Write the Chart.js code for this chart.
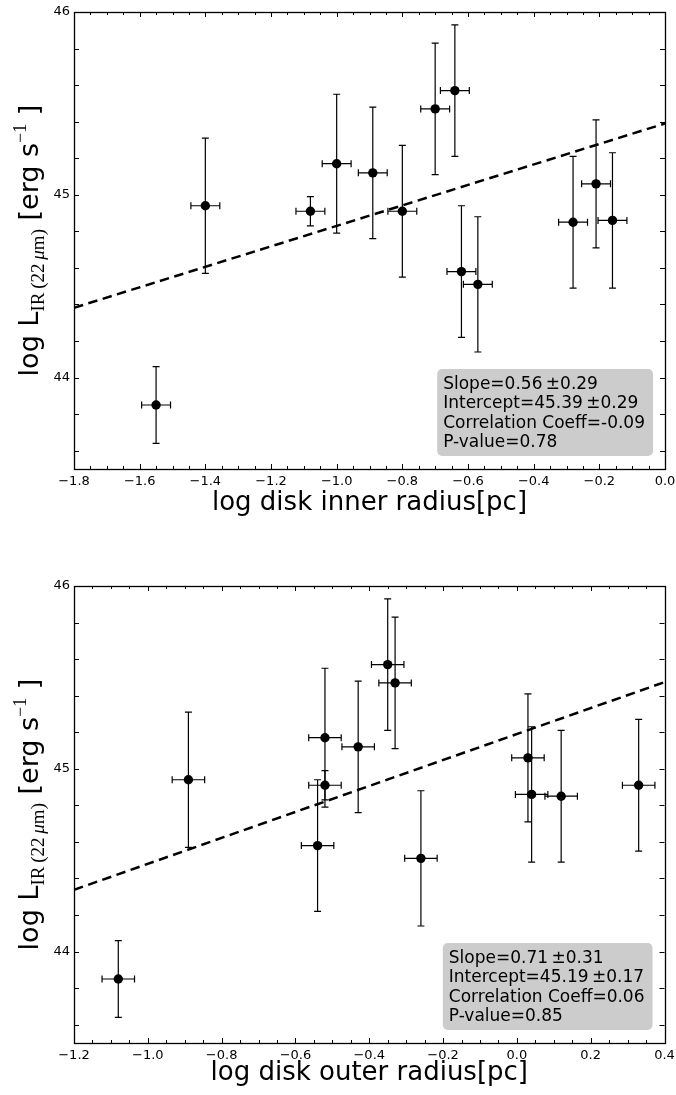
<!DOCTYPE html>
<html>
<head>
<meta charset="utf-8">
<title>IR luminosity vs disk radius</title>
<script src="https://cdn.jsdelivr.net/npm/chart.js@4/dist/chart.umd.min.js"></script>
<style>
  body { margin: 0; background: #fff; }
  canvas { display: block; }
</style>
</head>
<body>
<canvas id="innerChart" width="676" height="547"></canvas>
<canvas id="outerChart" width="676" height="548"></canvas>
<script>
// 22 micron luminosity of the sample (same galaxies, same order, in both panels)
const logLum    = [43.85, 44.94, 44.91, 45.17, 45.12, 44.91, 45.47, 45.57, 44.58, 44.51, 44.85, 45.06, 44.86];
const logLumErr = [0.21, 0.37, 0.08, 0.38, 0.36, 0.36, 0.36, 0.36, 0.36, 0.37, 0.36, 0.35, 0.37];

// disk radii (log pc)
const innerRadius = [-1.55, -1.40, -1.08, -1.00, -0.89, -0.80, -0.70, -0.64, -0.62, -0.57, -0.28, -0.21, -0.16];
const outerRadius = [-1.08, -0.89, -0.52, -0.52, -0.43, 0.33, -0.33, -0.35, -0.54, -0.26, 0.12, 0.03, 0.04];
const radiusErr   = [0.044, 0.044, 0.044, 0.044, 0.044, 0.044, 0.044, 0.044, 0.044, 0.044, 0.044, 0.044, 0.044];

// linear fits: [inner, outer]
const slopes        = [0.56, 0.71];
const slopeErrs     = [0.29, 0.31];
const intercepts    = [45.39, 45.19];
const interceptErrs = [0.29, 0.17];
const corrCoeffs    = [-0.09, 0.06];
const pValues       = [0.78, 0.85];

// tick labels
const innerTicks = [-1.8, -1.6, -1.4, -1.2, -1.0, -0.8, -0.6, -0.4, -0.2, 0.0];
const outerTicks = [-1.2, -1.0, -0.8, -0.6, -0.4, -0.2, 0.0, 0.2, 0.4];
const lumTicks   = [44, 45, 46];

const SANS = '"DejaVu Sans", sans-serif';
const SERIF = '"Liberation Serif", "DejaVu Serif", serif';

function fmtTick(v) {
  return v.toFixed(1).replace('-', '\u2212');
}

// error bars with caps, under the points
const errorBars = {
  id: 'errorBars',
  beforeDatasetsDraw(chart, args, opts) {
    const ctx = chart.ctx, xs = chart.scales.x, ys = chart.scales.y;
    const cap = 3.5;
    ctx.save();
    ctx.strokeStyle = '#000';
    ctx.lineWidth = 1.2;
    opts.xs.forEach((xv, i) => {
      const px = xs.getPixelForValue(xv), py = ys.getPixelForValue(logLum[i]);
      const y0 = ys.getPixelForValue(logLum[i] - logLumErr[i]);
      const y1 = ys.getPixelForValue(logLum[i] + logLumErr[i]);
      const x0 = xs.getPixelForValue(xv - radiusErr[i]);
      const x1 = xs.getPixelForValue(xv + radiusErr[i]);
      ctx.beginPath();
      ctx.moveTo(px, y0); ctx.lineTo(px, y1);
      ctx.moveTo(px - cap, y0); ctx.lineTo(px + cap, y0);
      ctx.moveTo(px - cap, y1); ctx.lineTo(px + cap, y1);
      ctx.moveTo(x0, py); ctx.lineTo(x1, py);
      ctx.moveTo(x0, py - cap); ctx.lineTo(x0, py + cap);
      ctx.moveTo(x1, py - cap); ctx.lineTo(x1, py + cap);
      ctx.stroke();
    });
    ctx.restore();
  }
};

// box around the plot with inward ticks on all four sides
const frameTicks = {
  id: 'frameTicks',
  afterDatasetsDraw(chart) {
    const ctx = chart.ctx, a = chart.chartArea;
    const xs = chart.scales.x, ys = chart.scales.y;
    ctx.save();
    ctx.strokeStyle = '#000';
    ctx.lineWidth = 1;
    ctx.beginPath();
    for (let v = xs.min; v <= xs.max + 1e-9; v += 0.05) {
      const px = Math.round(xs.getPixelForValue(v)) + 0.5;
      const major = Math.abs(v * 5 - Math.round(v * 5)) < 1e-6;
      const len = major ? 5 : 3;
      ctx.moveTo(px, a.bottom); ctx.lineTo(px, a.bottom - len);
      ctx.moveTo(px, a.top); ctx.lineTo(px, a.top + len);
    }
    for (let v = 43.6; v <= ys.max + 1e-9; v += 0.2) {
      const py = Math.round(ys.getPixelForValue(v)) + 0.5;
      ctx.moveTo(a.left, py); ctx.lineTo(a.left + 5, py);
      ctx.moveTo(a.right, py); ctx.lineTo(a.right - 5, py);
    }
    ctx.stroke();
    ctx.lineWidth = 1.3;
    ctx.strokeRect(Math.round(a.left) + 0.5, Math.round(a.top) + 0.5,
                   Math.round(a.right - a.left), Math.round(a.bottom - a.top));
    ctx.restore();
  }
};

// fit statistics in a grey rounded box, lower right
const statsBox = {
  id: 'statsBox',
  afterDraw(chart, args, opts) {
    const k = opts.k, ctx = chart.ctx, a = chart.chartArea;
    const lines = [
      'Slope=' + slopes[k].toFixed(2) + '\u2009\u00b1' + slopeErrs[k].toFixed(2),
      'Intercept=' + intercepts[k].toFixed(2) + '\u2009\u00b1' + interceptErrs[k].toFixed(2),
      'Correlation Coeff=' + corrCoeffs[k].toFixed(2),
      'P-value=' + pValues[k].toFixed(2)
    ];
    ctx.save();
    ctx.font = '17px ' + SANS;
    const w = Math.max(...lines.map(t => ctx.measureText(t).width)) + 14;
    const h = 87;
    const right = a.right - 12, bottom = a.bottom - 13;
    const left = right - w, top = bottom - h;
    ctx.fillStyle = '#cccccc';
    ctx.beginPath();
    ctx.roundRect(left, top, w, h, 5);
    ctx.fill();
    ctx.fillStyle = '#000';
    ctx.textBaseline = 'alphabetic';
    lines.forEach((t, i) => ctx.fillText(t, left + 6, top + 19.5 + i * 19.6));
    ctx.restore();
  }
};

// axis titles: x in plain text, y with math-style sub/superscripts
const axisTitles = {
  id: 'axisTitles',
  afterDraw(chart, args, opts) {
    const ctx = chart.ctx, a = chart.chartArea;
    ctx.save();
    ctx.fillStyle = '#000';
    ctx.font = '26px ' + SANS;
    ctx.textAlign = 'center';
    ctx.textBaseline = 'alphabetic';
    ctx.fillText(opts.xTitle, (a.left + a.right) / 2, opts.xTitleY);

    const parts = [
      ['log L', '27px ' + SANS, 0],
      ['IR', '19px ' + SERIF, 6],
      ['\u2009(22\u2009', '19px ' + SERIF, 6],
      ['\u03bc', 'italic 19px ' + SERIF, 6],
      ['m)', '19px ' + SERIF, 6],
      [' [erg s', '27px ' + SANS, 0],
      ['\u22121', '18px ' + SERIF, -12],
      [' ]', '27px ' + SANS, 0]
    ];
    ctx.textAlign = 'left';
    let total = 0;
    const widths = parts.map(p => { ctx.font = p[1]; const m = ctx.measureText(p[0]).width; total += m; return m; });
    ctx.translate(38, (a.top + a.bottom) / 2);
    ctx.rotate(-Math.PI / 2);
    let x = -total / 2;
    parts.forEach((p, i) => {
      ctx.font = p[1];
      ctx.fillText(p[0], x, p[2]);
      x += widths[i];
    });
    ctx.restore();
  }
};

function buildPanel(id, cfg) {
  const points = cfg.xs.map((x, i) => ({ x: x, y: logLum[i] }));
  const fitLine = [cfg.xMin, cfg.xMax].map(x => ({ x: x, y: intercepts[cfg.k] + slopes[cfg.k] * x }));
  return new Chart(document.getElementById(id), {
    type: 'scatter',
    data: {
      datasets: [
        { data: points, pointRadius: 4.7, pointHoverRadius: 4.7, backgroundColor: '#000', borderWidth: 0, order: 1 },
        { type: 'line', data: fitLine, borderColor: '#000', borderWidth: 2.5, borderDash: [9.5, 5.5],
          pointRadius: 0, fill: false, order: 0 }
      ]
    },
    options: {
      responsive: false,
      animation: false,
      devicePixelRatio: 1,
      layout: { padding: { top: cfg.padTop, right: cfg.padRight, left: 0, bottom: 0 } },
      plugins: {
        legend: { display: false },
        tooltip: { enabled: false },
        errorBars: { xs: cfg.xs },
        statsBox: { k: cfg.k },
        axisTitles: { xTitle: cfg.xTitle, xTitleY: cfg.xTitleY }
      },
      scales: {
        x: {
          type: 'linear', min: cfg.xMin, max: cfg.xMax,
          afterBuildTicks: s => { s.ticks = cfg.xTicks.map(v => ({ value: v })); },
          afterFit: s => { s.height = cfg.xAxisH; s.paddingLeft = 0; s.paddingRight = 0; },
          grid: { display: false, drawTicks: false },
          border: { display: false },
          ticks: { color: '#000', padding: 5, maxRotation: 0, autoSkip: false,
                   font: { family: SANS, size: 13 }, callback: v => fmtTick(v) }
        },
        y: {
          type: 'linear', min: 43.5, max: 46,
          afterBuildTicks: s => { s.ticks = lumTicks.map(v => ({ value: v })); },
          afterFit: s => { s.width = 74; s.paddingTop = 0; s.paddingBottom = 0; },
          grid: { display: false, drawTicks: false },
          border: { display: false },
          ticks: { color: '#000', padding: 4, autoSkip: false,
                   font: { family: SANS, size: 13 }, callback: v => String(v) }
        }
      }
    },
    plugins: [errorBars, frameTicks, statsBox, axisTitles]
  });
}

buildPanel('innerChart', {
  k: 0, xs: innerRadius, xMin: -1.8, xMax: 0.0, xTicks: innerTicks,
  padTop: 12, padRight: 11, xAxisH: 78,
  xTitle: 'log disk inner radius[pc]', xTitleY: 510
});

buildPanel('outerChart', {
  k: 1, xs: outerRadius, xMin: -1.2, xMax: 0.4, xTicks: outerTicks,
  padTop: 39, padRight: 11.5, xAxisH: 52,
  xTitle: 'log disk outer radius[pc]', xTitleY: 533
});
</script>
</body>
</html>
